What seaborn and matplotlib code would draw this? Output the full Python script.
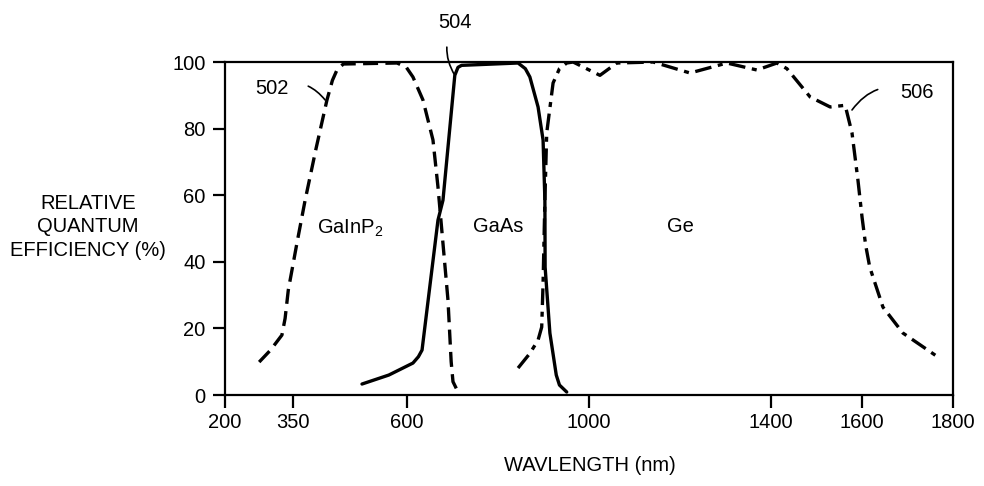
import numpy as np
import pandas as pd
import seaborn as sns
import matplotlib.pyplot as plt

# quantum efficiency curves (wavelength nm, relative QE %)
gainp_wl = [275, 300, 325, 332, 339, 358, 376, 400, 424, 436, 446, 460, 578, 598, 613, 635, 657, 668,
            677, 690, 697, 701, 710, 720]
gainp_qe = [9.9, 13.5, 18.0, 23.0, 31.5, 45.6, 58.5, 74.0, 88.6, 94.5, 97.6, 99.4, 99.7, 98.5, 95.5,
            88.6, 76.6, 62.5, 48.6, 28.5, 10.0, 4.0, 1.5, 0.9]

gaas_wl = [501, 560, 613, 625, 633, 651, 668, 679, 705, 712, 720, 844, 860, 870, 888, 899, 903, 903.5,
           914, 928, 935, 951]
gaas_qe = [3.3, 6.0, 9.6, 11.5, 13.5, 33.6, 52.5, 58.5, 96.0, 98.4, 99.0, 99.7, 98.0, 95.5, 86.5, 76.6,
           58.5, 38.4, 18.6, 6.0, 3.0, 0.9]

ge_wl = [844, 870, 888, 896, 899, 903, 907, 921, 935, 951, 965, 1024, 1061, 1141, 1222, 1303, 1369, 1413,
         1435, 1486, 1530, 1563, 1578, 1591, 1600, 1608, 1617, 1646, 1690, 1767]
ge_qe = [8.1, 12.5, 16.5, 20.4, 33.6, 58.5, 78.7, 93.7, 98.0, 99.7, 100.0, 96.0, 99.7, 100.0, 96.7, 99.7,
         97.6, 99.7, 98.0, 89.5, 86.5, 87.0, 78.7, 64.6, 53.5, 45.0, 38.4, 26.4, 18.6, 11.4]

x_ticks = [200, 350, 600, 1000, 1400, 1600, 1800]
y_ticks = [0, 20, 40, 60, 80, 100]

sns.set_theme(style="white")
plt.rcParams['font.family'] = ['Liberation Sans', 'DejaVu Sans']
plt.rcParams['mathtext.default'] = 'regular'
plt.rcParams['text.color'] = 'black'
plt.rcParams['axes.labelcolor'] = 'black'

fig = plt.figure(figsize=(9.84, 4.86), dpi=100)
ax = fig.add_axes([0.2287, 0.1872, 0.7398, 0.6852])

fs = 14.5
lw = 2.4

gainp = pd.DataFrame({"wl": gainp_wl, "qe": gainp_qe})
gaas = pd.DataFrame({"wl": gaas_wl, "qe": gaas_qe})
ge = pd.DataFrame({"wl": ge_wl, "qe": ge_qe})

sns.lineplot(data=gainp, x="wl", y="qe", ax=ax, color="black", lw=lw, sort=False,
             linestyle=(0, (4.5, 2.2)))
sns.lineplot(data=gaas, x="wl", y="qe", ax=ax, color="black", lw=lw, sort=False)
sns.lineplot(data=ge, x="wl", y="qe", ax=ax, color="black", lw=lw, sort=False,
             linestyle=(0, (5, 2, 1.5, 2)))

ax.set_xlim(200, 1800)
ax.set_ylim(0, 100)
ax.set_xticks(x_ticks)
ax.set_yticks(y_ticks)

for s in ax.spines.values():
    s.set_color("black")
    s.set_linewidth(1.6)
ax.tick_params(axis="both", direction="out", length=9, width=1.6, colors="black",
               labelsize=fs, bottom=True, left=True)
ax.tick_params(axis="y", pad=5)
ax.tick_params(axis="x", pad=4)

ax.set_xlabel("WAVLENGTH (nm)", fontsize=fs, color="black", va="center")
ax.xaxis.set_label_coords(0.501, -0.213)
ax.set_ylabel("RELATIVE\nQUANTUM\nEFFICIENCY (%)", fontsize=fs, color="black",
              rotation=0, ha="center", va="center", linespacing=1.3)
ax.yaxis.set_label_coords(-0.188, 0.505)

# material labels
ax.text(475, 50, "GaInP$_2$", fontsize=fs, ha="center", va="center")
ax.text(800, 50.7, "GaAs", fontsize=fs, ha="center", va="center")
ax.text(1202, 50.7, "Ge", fontsize=fs, ha="center", va="center")

# reference numerals with leaders
leader = dict(arrowstyle="-", color="black", lw=1.2, connectionstyle="arc3,rad=-0.4")
ax.annotate("502", xy=(420, 88.6), xytext=(303, 92), fontsize=fs, ha="center", va="center",
            arrowprops=dict(leader, shrinkA=12, shrinkB=0), annotation_clip=False)
ax.annotate("504", xy=(705, 96), xytext=(705, 112), fontsize=fs, ha="center", va="center",
            arrowprops=dict(leader, shrinkA=9, shrinkB=0, connectionstyle="arc3,rad=0.3"),
            annotation_clip=False)
ax.annotate("506", xy=(1578, 85.6), xytext=(1721, 90.7), fontsize=fs, ha="center", va="center",
            arrowprops=dict(leader, shrinkA=14, shrinkB=0, connectionstyle="arc3,rad=0.4"),
            annotation_clip=False)

fig.savefig("out.png", dpi=100, facecolor="white")
